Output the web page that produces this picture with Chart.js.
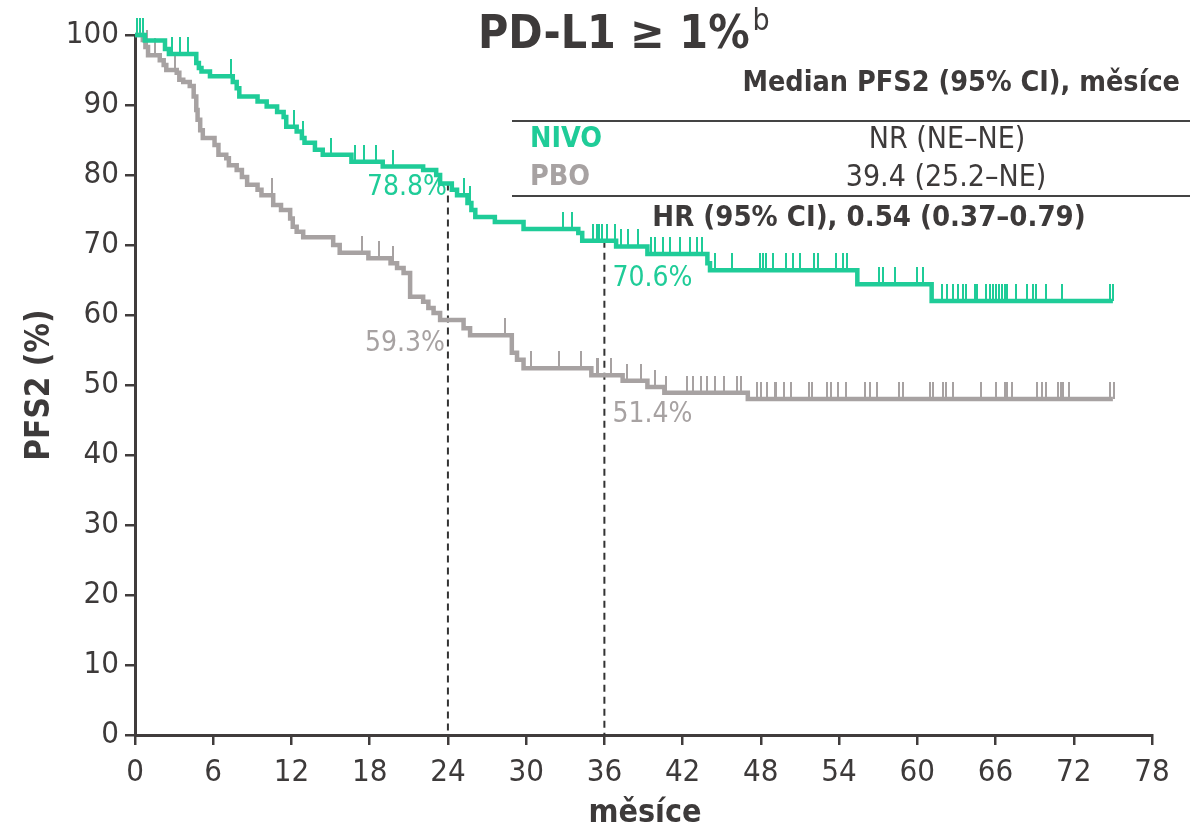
<!DOCTYPE html>
<html>
<head>
<meta charset="utf-8">
<script src="https://cdn.jsdelivr.net/npm/chart.js@4.4.1/dist/chart.umd.min.js"></script>
<style>
  html, body { margin: 0; padding: 0; background: #fff; }
  #wrap { width: 1201px; height: 832px; }
</style>
</head>
<body>
<div id="wrap"><canvas id="pfs2Chart" width="1201" height="832"></canvas></div>
<script>
  // Kaplan-Meier steps (months, % event-free)
  const nivoTimes = [0, 0.75, 2.3, 2.6, 4.7, 4.9, 5.1, 5.75, 7.5, 7.8, 8.0, 9.4, 10.1, 10.9, 11.4, 11.6, 12.4, 12.8, 13.0, 13.8, 14.4,
    16.6, 19.0, 22.1, 23.1, 23.4, 24.3, 24.7, 25.5, 25.8, 26.1, 27.6, 29.8, 34.0, 34.3, 36.9, 39.3, 43.9, 44.1, 55.4, 61.1, 75.0];
  const nivoSurv = [100, 99.2, 98.0, 97.3, 96.0, 95.3, 94.8, 94.1, 93.3, 92.4, 91.2, 90.5, 89.8, 89.0, 88.3, 86.9, 86.2, 85.3, 84.6, 83.6, 82.9,
    81.9, 81.2, 80.7, 80.0, 78.8, 77.9, 77.1, 76.0, 75.0, 74.0, 73.3, 72.3, 71.7, 70.6, 69.8, 68.7, 67.4, 66.4, 64.4, 62.0, 62.0];

  const pboTimes = [0, 0.6, 0.8, 1.0, 1.9, 2.2, 2.4, 3.2, 3.4, 3.7, 4.2, 4.5, 4.7, 4.8, 5.0, 5.2, 6.1, 6.4, 7.0, 7.2, 7.8, 8.2, 8.6,
    9.4, 9.7, 10.6, 11.2, 11.9, 12.1, 12.4, 12.9, 15.2, 15.7, 17.9, 19.6, 20.1, 20.6, 21.1, 22.1, 22.5, 22.9, 23.4, 25.2, 25.7,
    28.9, 29.3, 29.8, 35.0, 37.4, 39.3, 40.6, 47.0, 75.0];
  const pboSurv = [100, 99.3, 98.3, 97.1, 96.4, 95.7, 95.0, 94.6, 93.6, 93.3, 92.7, 91.2, 89.3, 87.9, 86.4, 85.3, 84.3, 82.9, 82.4, 81.4, 80.7, 79.7, 78.6,
    77.9, 77.1, 75.7, 75.0, 73.8, 72.6, 71.9, 71.1, 70.0, 68.9, 68.1, 67.4, 66.7, 66.0, 62.6, 61.9, 61.0, 60.3, 59.3, 58.1, 57.1,
    54.6, 53.6, 52.4, 51.4, 50.6, 49.7, 48.9, 48.0, 48.0];

  // censoring times (tick marks)
  const nivoCensor = [0.15, 0.4, 0.6, 2.8, 3.45, 4.1, 7.4, 12.2, 12.9, 15.0, 16.9, 17.6, 18.5, 19.8, 25.2, 25.7, 32.8, 33.5,
    35.1, 35.4, 35.6, 35.8, 36.2, 36.8, 37.3, 37.8, 38.6, 39.6, 39.9, 40.5, 41.0, 41.8, 42.6, 43.1, 43.5, 44.5, 45.8, 47.9, 48.2,
    48.4, 48.9, 49.9, 50.5, 51.0, 52.1, 52.4, 53.8, 54.3, 54.6, 57.1, 57.4, 58.3, 60.0, 60.4, 61.9, 62.3, 62.7, 63.1, 63.5, 63.7,
    64.4, 64.6, 65.3, 65.6, 65.8, 66.0, 66.3, 66.5, 66.7, 66.9, 67.6, 68.4, 68.9, 69.1, 69.9, 71.1, 74.8, 75.0];
  const pboCensor = [0.9, 1.5, 3.1, 10.5, 17.4, 18.7, 19.8, 28.4, 30.4, 32.5, 34.2, 35.4, 35.5, 36.5, 37.7, 38.8, 39.9, 40.7,
    42.3, 42.8, 43.4, 43.9, 44.5, 45.2, 46.2, 46.5, 47.7, 48.0, 48.5, 49.1, 49.2, 49.8, 50.3, 51.7, 51.9, 53.1, 53.4, 53.9, 54.5,
    56.0, 56.4, 56.9, 58.6, 58.9, 61.0, 61.2, 62.0, 62.2, 62.7, 64.9, 66.0, 66.7, 66.9, 67.3, 69.2, 69.6, 69.9, 70.8, 71.0, 71.2,
    71.6, 74.8, 75.1];

  // landmark estimates
  const landmarkTimes = [24, 36];
  const nivoLandmark = [78.8, 70.6];
  const pboLandmark = [59.3, 51.4];

  const xTicks = [0, 6, 12, 18, 24, 30, 36, 42, 48, 54, 60, 66, 72, 78];
  const yTicks = [0, 10, 20, 30, 40, 50, 60, 70, 80, 90, 100];

  const green = '#1fcc98';
  const grey = '#a7a2a2';
  const ink = '#3d3a3a';
  const FONT = "'DejaVu Sans Condensed', 'DejaVu Sans', sans-serif";

  function survAt(times, surv, t) {
    let v = surv[0];
    for (let i = 0; i < times.length; i++) if (times[i] <= t) v = surv[i];
    return v;
  }

  function censorMark(color) {
    const c = document.createElement('canvas');
    c.width = 2; c.height = 34;
    const g = c.getContext('2d');
    g.fillStyle = color;
    g.fillRect(0, 0, 2, 17);
    return c;
  }

  const toPts = (times, surv) => times.map((t, i) => ({ x: t, y: surv[i] }));
  const censorPts = (list, times, surv) => list.map(t => ({ x: t, y: survAt(times, surv, t) }));

  const overlay = {
    id: 'overlay',
    beforeDatasetsDraw(chart) {
      const { ctx, scales: { x, y } } = chart;
      ctx.save();
      ctx.strokeStyle = '#333';
      ctx.lineWidth = 2;
      ctx.setLineDash([7, 5]);
      landmarkTimes.forEach((t, i) => {
        ctx.beginPath();
        ctx.moveTo(x.getPixelForValue(t), y.getPixelForValue(nivoLandmark[i]));
        ctx.lineTo(x.getPixelForValue(t), y.getPixelForValue(0));
        ctx.stroke();
      });
      ctx.restore();
    },
    afterDraw(chart) {
      const { ctx, scales: { x, y } } = chart;
      ctx.save();
      ctx.textBaseline = 'middle';

      // landmark labels
      ctx.font = '28px ' + FONT;
      ctx.textAlign = 'right';
      ctx.fillStyle = green;
      ctx.fillText(nivoLandmark[0].toFixed(1) + '%', x.getPixelForValue(24) - 1, y.getPixelForValue(nivoLandmark[0]) + 4);
      ctx.fillStyle = grey;
      ctx.fillText(pboLandmark[0].toFixed(1) + '%', x.getPixelForValue(24) - 3, y.getPixelForValue(pboLandmark[0]) + 24);
      ctx.textAlign = 'left';
      ctx.fillStyle = green;
      ctx.fillText(nivoLandmark[1].toFixed(1) + '%', x.getPixelForValue(36) + 8, y.getPixelForValue(nivoLandmark[1]) + 38);
      ctx.fillStyle = grey;
      ctx.fillText(pboLandmark[1].toFixed(1) + '%', x.getPixelForValue(36) + 8, y.getPixelForValue(pboLandmark[1]) + 40);

      // title
      ctx.fillStyle = ink;
      ctx.font = 'bold 46px ' + FONT;
      ctx.textAlign = 'left';
      ctx.fillText('PD-L1 ≥ 1%', 478, 36);
      const tw = ctx.measureText('PD-L1 ≥ 1%').width;
      ctx.font = '30px ' + FONT;
      ctx.fillText('b', 478 + tw + 3, 22);

      // table
      ctx.font = 'bold 28.5px ' + FONT;
      ctx.textAlign = 'right';
      ctx.fillText('Median PFS2 (95% CI), měsíce', 1180, 84);
      ctx.strokeStyle = '#444';
      ctx.lineWidth = 2;
      [121, 196].forEach(py => {
        ctx.beginPath(); ctx.moveTo(512, py); ctx.lineTo(1190, py); ctx.stroke();
      });
      ctx.textAlign = 'left';
      ctx.fillStyle = green;
      ctx.fillText('NIVO', 530, 140);
      ctx.fillStyle = grey;
      ctx.fillText('PBO', 530, 178);
      ctx.textAlign = 'center';
      ctx.fillStyle = ink;
      ctx.font = '30px ' + FONT;
      ctx.fillText('NR (NE–NE)', 947, 140);
      ctx.fillText('39.4 (25.2–NE)', 946, 178);
      ctx.font = 'bold 29px ' + FONT;
      ctx.fillText('HR (95% CI), 0.54 (0.37–0.79)', 869, 218);

      // axis titles
      ctx.font = 'bold 32px ' + FONT;
      ctx.fillText('měsíce', 645, 814);
      ctx.translate(40, 385);
      ctx.rotate(-Math.PI / 2);
      ctx.font = 'bold 33px ' + FONT;
      ctx.fillText('PFS2 (%)', 0, 0);
      ctx.restore();
    }
  };

  new Chart(document.getElementById('pfs2Chart'), {
    type: 'line',
    data: {
      datasets: [
        {
          label: 'NIVO', data: toPts(nivoTimes, nivoSurv), stepped: 'before',
          borderColor: green, borderWidth: 4.5, pointRadius: 0, fill: false, clip: false
        },
        {
          label: 'PBO', data: toPts(pboTimes, pboSurv), stepped: 'before',
          borderColor: grey, borderWidth: 4.5, pointRadius: 0, fill: false, clip: false
        },
        {
          label: 'NIVO censored', data: censorPts(nivoCensor, nivoTimes, nivoSurv), showLine: false,
          pointStyle: censorMark(green), pointRadius: 8, clip: false
        },
        {
          label: 'PBO censored', data: censorPts(pboCensor, pboTimes, pboSurv), showLine: false,
          pointStyle: censorMark(grey), pointRadius: 8, clip: false
        }
      ]
    },
    options: {
      responsive: false,
      animation: false,
      layout: { padding: { top: 35, right: 49, left: 0, bottom: 0 } },
      plugins: { legend: { display: false }, tooltip: { enabled: false } },
      scales: {
        x: {
          type: 'linear', min: 0, max: 78,
          afterBuildTicks: s => { s.ticks = xTicks.map(v => ({ value: v })); },
          afterFit: s => { s.height = 97; },
          grid: { drawOnChartArea: false, drawTicks: true, tickLength: 10, color: '#403c3c', lineWidth: 2.5 },
          border: { display: true, color: '#403c3c', width: 3 },
          ticks: { color: ink, font: { family: FONT, size: 31 }, padding: 9, maxRotation: 0 }
        },
        y: {
          min: 0, max: 100,
          afterBuildTicks: s => { s.ticks = yTicks.map(v => ({ value: v })); },
          afterFit: s => { s.width = 135; },
          grid: { drawOnChartArea: false, drawTicks: true, tickLength: 10, color: '#403c3c', lineWidth: 2.5 },
          border: { display: true, color: '#403c3c', width: 3 },
          ticks: { color: ink, font: { family: FONT, size: 31 }, padding: 6 }
        }
      }
    },
    plugins: [overlay]
  });
</script>
</body>
</html>
